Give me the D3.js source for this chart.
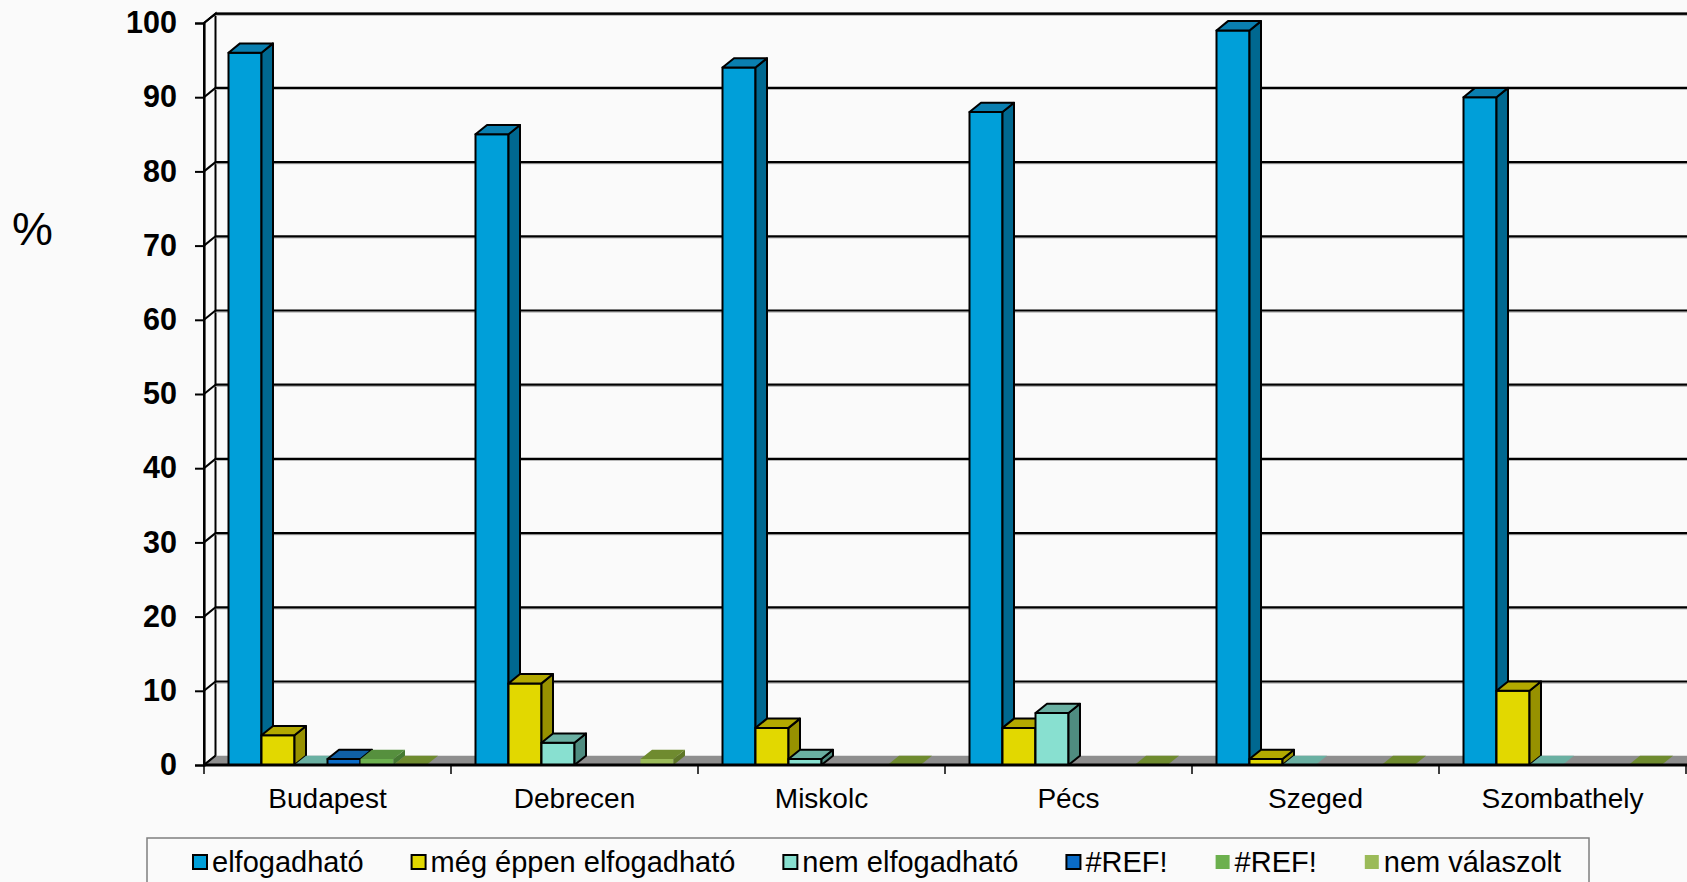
<!DOCTYPE html>
<html>
<head>
<meta charset="utf-8">
<script src="https://cdn.jsdelivr.net/npm/d3@7"></script>
<style>
  html, body { margin: 0; padding: 0; background: #fafafa; }
  svg { display: block; }
  text { font-family: "Liberation Sans", Arial, sans-serif; fill: #000; }
</style>
</head>
<body>
<svg id="chart" width="1687" height="882"></svg>
<script>
// ---- data ----
const categories = ["Budapest", "Debrecen", "Miskolc", "Pécs", "Szeged", "Szombathely"];
const seriesNames = ["elfogadható", "még éppen elfogadható", "nem elfogadható", "#REF!", "#REF!", "nem válaszolt"];
const elfogadhato     = [96, 85, 94, 88, 99, 90];
const megEppen        = [4, 11, 5, 5, 0.8, 10];
const nemElfogadhato  = [0, 3, 0.8, 7, 0, 0];
const ref1            = [0.8, null, null, null, null, null];
const ref2            = [0.8, null, null, null, null, null];
const nemValaszolt    = [0, 0.8, 0, 0, 0, 0];
const yTicks = [0, 10, 20, 30, 40, 50, 60, 70, 80, 90, 100];

const seriesValues = [elfogadhato, megEppen, nemElfogadhato, ref1, ref2, nemValaszolt];
const seriesStyle = [
  { front: "#009fd9", top: "#0a7fb0", side: "#006890", stroke: "#000" },
  { front: "#e2d800", top: "#b3a900", side: "#979100", stroke: "#000" },
  { front: "#88e0d0", top: "#6ab0a2", side: "#4f8c80", stroke: "#000" },
  { front: "#0a6cc8", top: "#1060a6", side: "#0a4c8c", stroke: "#000" },
  { front: "#6cb04e", top: "#56903e", side: "#467a32", stroke: "none" },
  { front: "#9bbb59", top: "#6f8b2f", side: "#5e7628", stroke: "none" }
];

// ---- layout ----
const W = 1687, H = 882;
const axisX = 204, catStep = 247;
const DX = 11.5, DY = 9.3;
const BG = "#fafafa";
const svg = d3.select("#chart");

const x = d3.scaleBand().domain(categories).range([axisX, axisX + catStep * categories.length]).padding(0);
const xs = d3.scaleBand().domain(d3.range(seriesNames.length)).range([24.5, catStep - 24.5]).padding(0);
const y = d3.scaleLinear().domain([0, 100]).range([765, 23]);
const y0 = y(0);

// side wall (left)
svg.append("path")
  .attr("d", `M${axisX},${y(100)} L${axisX + DX},${y(100) - DY} L${axisX + DX},${y0 - DY} L${axisX},${y0} Z`)
  .attr("fill", BG).attr("stroke", "#000").attr("stroke-width", 2);

// floor
svg.append("path")
  .attr("d", `M${axisX},${y0} L${axisX + DX},${y0 - DY} L${W + 20},${y0 - DY} L${W + 20},${y0} Z`)
  .attr("fill", "#8e8e8e").attr("stroke", "none");

// back-wall top line
svg.append("line")
  .attr("x1", axisX + DX).attr("x2", W + 5)
  .attr("y1", y(100) - DY).attr("y2", y(100) - DY)
  .attr("stroke", "#000").attr("stroke-width", 2);

// gridlines on back wall + diagonals on side wall
const grid = svg.append("g");
yTicks.forEach(v => {
  if (v > 0) {
    grid.append("line")
      .attr("x1", axisX + DX).attr("x2", W + 5)
      .attr("y1", y(v) - DY + 1.6).attr("y2", y(v) - DY + 1.6)
      .attr("stroke", "#b8b8b8").attr("stroke-width", 1.2);
    grid.append("line")
      .attr("x1", axisX + DX).attr("x2", W + 5)
      .attr("y1", y(v) - DY).attr("y2", y(v) - DY)
      .attr("stroke", "#000").attr("stroke-width", 2.2);
  }
  grid.append("line")
    .attr("x1", axisX).attr("x2", axisX + DX)
    .attr("y1", y(v)).attr("y2", y(v) - DY)
    .attr("stroke", "#000").attr("stroke-width", 2);
});

// y axis with d3 (ticks to the left)
const yAxis = svg.append("g")
  .attr("transform", `translate(${axisX},0)`)
  .call(d3.axisLeft(y).tickValues(yTicks).tickSize(9).tickPadding(18).tickFormat(d3.format("d")));
yAxis.select(".domain").attr("stroke", "#000").attr("stroke-width", 2.2);
yAxis.selectAll(".tick line").attr("stroke", "#000").attr("stroke-width", 2);
yAxis.selectAll(".tick text")
  .attr("font-family", "Liberation Sans, Arial, sans-serif")
  .attr("font-size", 30.5).attr("font-weight", "bold").attr("fill", "#000");

// bars (3D)
const bars = svg.append("g");
categories.forEach((c, ci) => {
  seriesValues.forEach((vals, si) => {
    const v = vals[ci];
    if (v === null || v === undefined) return;
    const st = seriesStyle[si];
    const bx = x(c) + xs(si), bw = xs.bandwidth();
    const yt = y(v);
    const g = bars.append("g")
      .attr("stroke", st.stroke).attr("stroke-width", 2).attr("stroke-linejoin", "round");
    if (v > 0) {
      g.append("path")
        .attr("d", `M${bx},${yt} L${bx + bw},${yt} L${bx + bw},${y0} L${bx},${y0} Z`)
        .attr("fill", st.front);
      g.append("path")
        .attr("d", `M${bx + bw},${yt} L${bx + bw + DX},${yt - DY} L${bx + bw + DX},${y0 - DY} L${bx + bw},${y0} Z`)
        .attr("fill", st.side);
    }
    g.append("path")
      .attr("d", `M${bx},${yt} L${bx + DX},${yt - DY} L${bx + bw + DX},${yt - DY} L${bx + bw},${yt} Z`)
      .attr("fill", st.top)
      .attr("stroke", v > 0 ? st.stroke : "none");
  });
});

// x axis (front edge of floor) with category labels
const xAxis = svg.append("g")
  .attr("transform", `translate(0,${y0})`)
  .call(d3.axisBottom(x).tickSize(0).tickPadding(23));
xAxis.select(".domain").remove();
xAxis.selectAll(".tick text")
  .attr("font-family", "Liberation Sans, Arial, sans-serif")
  .attr("font-size", 28).attr("fill", "#000");
svg.append("line")
  .attr("x1", axisX).attr("x2", W + 5).attr("y1", y0).attr("y2", y0)
  .attr("stroke", "#000").attr("stroke-width", 3);
const catEdges = d3.range(categories.length + 1).map(i => axisX + i * x.step());
svg.append("g").selectAll("line").data(catEdges).join("line")
  .attr("x1", d => d).attr("x2", d => d)
  .attr("y1", y0).attr("y2", y0 + 9)
  .attr("stroke", "#000").attr("stroke-width", 1.5);

// % label
svg.append("text").attr("x", 12).attr("y", 245)
  .attr("font-size", 46).text("%");

// legend
const legend = svg.append("g");
legend.append("rect")
  .attr("x", 147).attr("y", 838).attr("width", 1442).attr("height", 70)
  .attr("fill", "none").attr("stroke", "#7f7f7f").attr("stroke-width", 1.5);
let lx = 193;
seriesNames.forEach((name, i) => {
  const st = seriesStyle[i];
  legend.append("rect")
    .attr("x", lx).attr("y", 855).attr("width", 14).attr("height", 14)
    .attr("fill", st.front)
    .attr("stroke", st.stroke === "none" ? "none" : "#000").attr("stroke-width", 2);
  const t = legend.append("text")
    .attr("x", lx + 19).attr("y", 872)
    .attr("font-size", 29).text(name);
  const w = t.node().getComputedTextLength();
  lx = lx + 19 + w + 48;
});
</script>
</body>
</html>
